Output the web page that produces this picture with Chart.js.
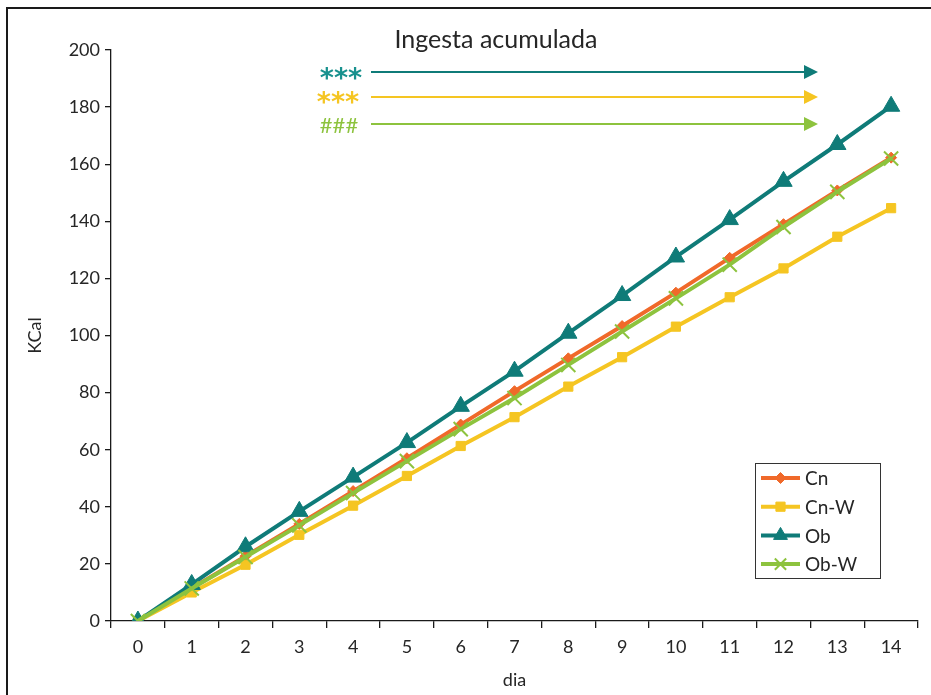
<!DOCTYPE html>
<html>
<head>
<meta charset="utf-8">
<script src="https://cdn.jsdelivr.net/npm/chart.js@4"></script>
<style>
  html, body { margin: 0; padding: 0; background: #fff; }
  #wrap { position: relative; width: 931px; height: 695px; }
</style>
</head>
<body>
<div id="wrap"><canvas id="c" width="931" height="695"></canvas></div>
<script>
// Cumulative intake (KCal) per day for each group
const dias = ['0','1','2','3','4','5','6','7','8','9','10','11','12','13','14'];
const cn   = [0, 11.5, 22.7, 34.0, 45.5, 57.0, 68.8, 80.5, 92.0, 103.3, 115.0, 127.2, 139.0, 150.8, 162.3];
const cnW  = [0, 10.0, 19.7, 30.2, 40.4, 50.8, 61.3, 71.4, 82.1, 92.4, 103.1, 113.4, 123.5, 134.6, 144.6];
const ob   = [0, 12.8, 26.0, 38.4, 50.4, 62.5, 75.2, 87.5, 100.8, 114.0, 127.5, 140.6, 154.0, 166.9, 180.3];
const obW  = [0, 11.4, 22.4, 33.5, 44.8, 56.0, 67.2, 78.1, 89.7, 101.4, 113.0, 124.8, 138.0, 150.3, 162.0];
const yTicks = [0, 20, 40, 60, 80, 100, 120, 140, 160, 180, 200];

const COL = { cn: '#F0692A', cnW: '#F5C522', ob: '#0F7B78', obW: '#8DC33E', text: '#262626' };
const FONT = 'Lato, "Open Sans", sans-serif';

// Outer frame, title, significance arrows and legend box
const decor = {
  id: 'decor',
  afterDraw(chart) {
    const ctx = chart.ctx;
    ctx.save();
    // frame
    ctx.strokeStyle = '#1a1a1a';
    ctx.lineWidth = 2;
    ctx.beginPath();
    ctx.moveTo(7, 700); ctx.lineTo(7, 8); ctx.lineTo(940, 8);
    ctx.stroke();

    // title
    ctx.fillStyle = COL.text;
    ctx.font = '25px ' + FONT;
    ctx.textAlign = 'center';
    ctx.textBaseline = 'middle';
    ctx.fillText('Ingesta acumulada', 496, 40);

    // arrows with significance marks
    const arrows = [
      { txt: '***', col: '#18918E', mark: COL.ob, y: 72, tx: 341, ty: 80, font: 'bold 27px "DejaVu Sans"' },
      { txt: '***', col: COL.cnW, mark: COL.cnW, y: 97, tx: 338, ty: 104, font: 'bold 27px "DejaVu Sans"' },
      { txt: '###', col: COL.obW, mark: COL.obW, y: 124, tx: 339, ty: 126, font: '22px ' + FONT }
    ];
    arrows.forEach(a => {
      ctx.fillStyle = a.col;
      ctx.font = a.font;
      ctx.textAlign = 'center';
      ctx.textBaseline = 'middle';
      ctx.fillText(a.txt, a.tx, a.ty);
      ctx.strokeStyle = a.mark;
      ctx.lineWidth = 2;
      ctx.beginPath();
      ctx.moveTo(371, a.y); ctx.lineTo(806, a.y);
      ctx.stroke();
      ctx.fillStyle = a.mark;
      ctx.beginPath();
      ctx.moveTo(804, a.y - 7); ctx.lineTo(818, a.y); ctx.lineTo(804, a.y + 7);
      ctx.closePath();
      ctx.fill();
    });

    // legend
    const bx = 755, by = 463, bw = 125, bh = 115;
    ctx.fillStyle = '#fff';
    ctx.fillRect(bx, by, bw, bh);
    ctx.strokeStyle = '#333';
    ctx.lineWidth = 1;
    ctx.strokeRect(bx + 0.5, by + 0.5, bw, bh);
    chart.data.datasets.forEach((ds, i) => {
      const y = 478 + i * 28.7;
      ctx.strokeStyle = ds.borderColor;
      ctx.lineWidth = 4;
      ctx.beginPath();
      ctx.moveTo(761, y); ctx.lineTo(800, y);
      ctx.stroke();
      ctx.fillStyle = ds.borderColor;
      ctx.strokeStyle = ds.borderColor;
      ctx.lineWidth = ds.pointBorderWidth;
      const big = ds.pointRadius > 7;
      Chart.helpers.drawPoint(ctx, {
        pointStyle: ds.pointStyle,
        radius: big ? ds.pointRadius * 0.8 : ds.pointRadius,
        borderWidth: ds.pointBorderWidth,
        rotation: 0
      }, 780.5, y);
      ctx.fillStyle = COL.text;
      ctx.font = '19px ' + FONT;
      ctx.textAlign = 'left';
      ctx.textBaseline = 'middle';
      ctx.fillText(ds.label, 805, y + 1);
    });
    ctx.restore();
  }
};

function mk(label, data, col, style, radius, order, bw) {
  return {
    label, data,
    borderColor: col,
    backgroundColor: col,
    pointBackgroundColor: col,
    pointBorderColor: col,
    borderWidth: 4,
    pointStyle: style,
    pointRadius: radius,
    pointHoverRadius: radius,
    pointBorderWidth: bw,
    tension: 0,
    order
  };
}

const chart = new Chart(document.getElementById('c'), {
  type: 'line',
  data: {
    labels: dias,
    datasets: [
      mk('Cn',   cn,  COL.cn,  'rectRot',  5.5, 4, 1),
      mk('Cn-W', cnW, COL.cnW, 'rect',     6.5, 3, 1),
      mk('Ob',   ob,  COL.ob,  'triangle', 10, 2, 1),
      mk('Ob-W', obW, COL.obW, 'crossRot', 10, 1, 2)
    ]
  },
  options: {
    responsive: false,
    animation: false,
    events: [],
    layout: { padding: { top: 50, right: 13, left: 0, bottom: 0 } },
    plugins: { legend: { display: false }, tooltip: { enabled: false }, title: { display: false } },
    scales: {
      x: {
        type: 'category',
        offset: true,
        grid: { offset: true, drawOnChartArea: false, drawTicks: true, tickLength: 7, color: '#1a1a1a', lineWidth: 1.3 },
        border: { color: '#1a1a1a', width: 1.3 },
        ticks: { color: COL.text, font: { family: FONT, size: 18 }, padding: 8, maxRotation: 0, autoSkip: false },
        title: { display: true, text: 'dia', color: COL.text, font: { family: FONT, size: 18 }, padding: { top: 4 } },
        afterFit(s) { s.height = 74; }
      },
      y: {
        min: 0, max: 200,
        afterBuildTicks(s) { s.ticks = yTicks.map(v => ({ value: v })); },
        grid: { drawOnChartArea: false, drawTicks: true, tickLength: 6, color: '#1a1a1a', lineWidth: 1.3 },
        border: { color: '#1a1a1a', width: 1.3 },
        ticks: { color: COL.text, font: { family: FONT, size: 18 }, padding: 5 },
        title: { display: true, text: 'KCal', color: COL.text, font: { family: FONT, size: 18 }, padding: { top: 24 } },
        afterFit(s) { s.width = 111; }
      }
    }
  },
  plugins: [decor]
});
</script>
</body>
</html>
